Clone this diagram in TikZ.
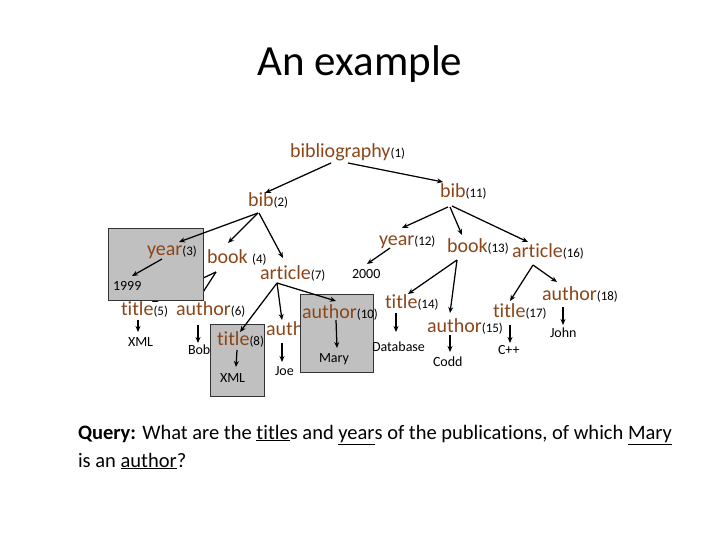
\documentclass[tikz,border=0pt]{standalone}
\usepackage{fontspec}
\setmainfont{Carlito}[Ligatures={NoCommon}]
\usetikzlibrary{arrows.meta,calc}
\definecolor{nb}{RGB}{140,70,25}
\definecolor{boxgray}{RGB}{192,192,192}
\newcommand\lb[2]{{\color{nb}\fontsize{20}{22}\selectfont #1}{\fontsize{13}{15}\selectfont(#2)}}
\newcommand\lf[1]{{\fontsize{14}{16}\selectfont #1}}
\tikzset{
  tx/.style={anchor=base west, inner sep=0pt, outer sep=0pt},
  arr/.style={-{Stealth[length=6pt,width=5pt]}, line width=1.25pt, black},
  graybox/.style={fill=boxgray, draw=black!80, line width=0.6pt}
}
\begin{document}
\begin{tikzpicture}[x=1pt,y=-1pt]
\useasboundingbox (0,0) rectangle (720,540);
% title
\node[anchor=base, inner sep=0pt] (title) at (360,76) {\fontsize{43}{48}\selectfont An example};
% nodes under the gray boxes
\node[tx] (n4) at (207,263) {\lb{book }{4}};
\node[tx] (n5) at (121,315) {\lb{title}{5}};
\node[tx] (n6) at (176,315) {\lb{author}{6}};
\node[tx] (n9) at (266,335) {{\color{nb}\fontsize{20}{22}\selectfont auth}};
\draw[arr] ($(n4.base west)+(9,9)$) -- ($(n5.base west)+(31,-13)$);
\draw[arr] ($(n4.base west)+(9,9)$) -- ($(n6.base west)+(22,-15)$);
% gray boxes
\path[graybox] (108,228) rectangle (203,300);
\path[graybox] (210,324) rectangle (264,396);
\path[graybox] (300,294) rectangle (373,372);
% remaining nodes
\node[tx] (n1) at (290,158) {\lb{bibliography}{1}};
\node[tx] (n2) at (248,207) {\lb{bib}{2}};
\node[tx] (n11) at (440,198) {\lb{bib}{11}};
\node[tx] (n3) at (147,255) {\lb{year}{3}};
\node[tx] (y1999) at (113,290) {\lf{1999}};
\node[tx] (n7) at (260,279) {\lb{article}{7}};
\node[tx] (y2000) at (352,278) {\lf{2000}};
\node[tx] (x5) at (128,346) {\lf{XML}};
\node[tx] (bob) at (188,354) {\lf{Bob}};
\node[tx] (n8) at (217,345) {\lb{title}{8}};
\node[tx] (x8) at (220,382) {\lf{XML}};
\node[tx] (n10) at (302,318) {\lb{author}{10}};
\node[tx] (mary) at (319,362) {\lf{Mary}};
\node[tx] (joe) at (275,375) {\lf{Joe}};
\node[tx] (n12) at (379,245) {\lb{year}{12}};
\node[tx] (n13) at (447,252) {\lb{book}{13}};
\node[tx] (n16) at (512,257) {\lb{article}{16}};
\node[tx] (n14) at (385,308) {\lb{title}{14}};
\node[tx] (db) at (372,351) {\lf{Database}};
\node[tx] (n15) at (427,332) {\lb{author}{15}};
\node[tx] (codd) at (433,366) {\lf{Codd}};
\node[tx] (n17) at (493,317) {\lb{title}{17}};
\node[tx] (cpp) at (498,354) {\lf{C++}};
\node[tx] (n18) at (542,300) {\lb{author}{18}};
\node[tx] (john) at (550,337) {\lf{John}};
% arrows
\draw[arr] ($(n1.base west)+(41,5)$) -- ($(n2.base west)+(17,-14)$);
\draw[arr] ($(n1.base west)+(58,5)$) -- ($(n11.base west)+(3,-16)$);
\draw[arr] ($(n2.base west)+(10,6)$) -- ($(n3.base west)+(32,-13)$);
\draw[arr] ($(n2.base west)+(10,6)$) -- ($(n4.base west)+(21,-20)$);
\draw[arr] ($(n2.base west)+(11,6)$) -- ($(n7.base west)+(23,-21)$);
\draw[arr] ($(n3.base west)+(15,4)$) -- ($(y1999.base west)+(19,-14)$);
\draw[arr] ($(n7.base west)+(17,4)$) -- ($(n8.base west)+(23,-13)$);
\draw[arr] ($(n7.base west)+(17,4)$) -- ($(n9.base west)+(16,-15)$);
\draw[arr] ($(n7.base west)+(17,4)$) -- ($(n10.base west)+(34,-17)$);
\draw[arr] ($(n10.base west)+(34,2)$) -- ($(mary.base west)+(18,-14)$);
\draw[arr] ($(n8.base west)+(20,5)$) -- ($(x8.base west)+(16,-15)$);
\draw[arr] ($(n9.base west)+(16,8)$) -- ($(joe.base west)+(7,-13)$);
\draw[arr] ($(n5.base west)+(17,5)$) -- ($(x5.base west)+(10,-14)$);
\draw[arr] ($(n6.base west)+(22,10)$) -- ($(bob.base west)+(10,-11)$);
\draw[arr] ($(n11.base west)+(8,9)$) -- ($(n12.base west)+(23,-17)$);
\draw[arr] ($(n11.base west)+(10,9)$) -- ($(n13.base west)+(15,-17)$);
\draw[arr] ($(n11.base west)+(12,8)$) -- ($(n16.base west)+(16,-15)$);
\draw[arr] ($(n12.base west)+(11,3)$) -- ($(y2000.base west)+(15,-14)$);
\draw[arr] ($(n13.base west)+(10,8)$) -- ($(n14.base west)+(23,-14)$);
\draw[arr] ($(n13.base west)+(10,8)$) -- ($(n15.base west)+(23,-19)$);
\draw[arr] ($(n14.base west)+(11,5)$) -- ($(db.base west)+(24,-19)$);
\draw[arr] ($(n16.base west)+(21,8)$) -- ($(n17.base west)+(17,-16)$);
\draw[arr] ($(n16.base west)+(21,8)$) -- ($(n18.base west)+(15,-18)$);
\draw[arr] ($(n15.base west)+(23,3)$) -- ($(codd.base west)+(17,-14)$);
\draw[arr] ($(n17.base west)+(17,8)$) -- ($(cpp.base west)+(12,-11)$);
\draw[arr] ($(n18.base west)+(21,7)$) -- ($(john.base west)+(13,-12)$);
% query
\node[tx] (q1) at (78,439) {\fontsize{20.5}{24}\selectfont\textbf{Query:} What are the \underline{title}s and \underline{year}s of the publications, of which \underline{Mary}};
\node[tx] (q2) at (78,467) {\fontsize{20.5}{24}\selectfont is an \underline{author}?};
\end{tikzpicture}
\end{document}
